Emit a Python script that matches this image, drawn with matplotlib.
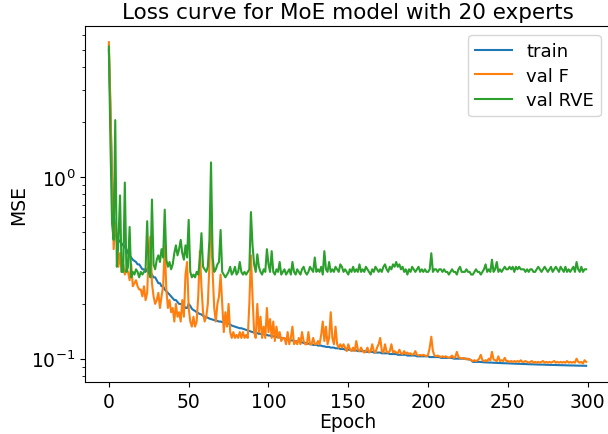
import matplotlib

matplotlib.use("Agg")
import matplotlib.pyplot as plt
import numpy as np

# values, one per epoch (0..299)
train = [
    5.0, 2.2, 1.0, 0.62, 0.52, 0.47, 0.45, 0.44, 0.43, 0.42,
    0.41, 0.40, 0.38, 0.37, 0.36, 0.35, 0.345, 0.34, 0.33, 0.33,
    0.32, 0.31, 0.31, 0.30, 0.31, 0.32, 0.30, 0.29, 0.28, 0.28,
    0.27, 0.26, 0.26, 0.25, 0.25, 0.24, 0.235, 0.23, 0.225, 0.22,
    0.215, 0.21, 0.21, 0.205, 0.20, 0.20, 0.198, 0.195, 0.19, 0.19,
    0.2, 0.195, 0.188, 0.185, 0.183, 0.18, 0.178, 0.176, 0.175, 0.172,
    0.17, 0.169, 0.168, 0.166, 0.165, 0.164, 0.163, 0.162, 0.161, 0.16,
    0.16, 0.159, 0.158, 0.158, 0.157, 0.156, 0.154, 0.152, 0.151, 0.15,
    0.149, 0.148, 0.147, 0.147, 0.146, 0.145, 0.144, 0.143, 0.142, 0.141,
    0.14, 0.139, 0.139, 0.138, 0.137, 0.137, 0.136, 0.136, 0.135, 0.135,
    0.134, 0.134, 0.133, 0.133, 0.132, 0.132, 0.131, 0.131, 0.13, 0.13,
    0.129, 0.128, 0.128, 0.127, 0.126, 0.126, 0.125, 0.125, 0.124, 0.124,
    0.123, 0.123, 0.122, 0.122, 0.121, 0.121, 0.12, 0.12, 0.119, 0.119,
    0.119, 0.118, 0.118, 0.118, 0.117, 0.117, 0.116, 0.116, 0.116, 0.115,
    0.115, 0.115, 0.114, 0.114, 0.114, 0.113, 0.113, 0.113, 0.112, 0.112,
    0.112, 0.112, 0.111, 0.111, 0.111, 0.111, 0.11, 0.11, 0.11, 0.11,
    0.11, 0.109, 0.109, 0.109, 0.109, 0.109, 0.108, 0.108, 0.108, 0.108,
    0.108, 0.107, 0.107, 0.107, 0.107, 0.107, 0.106, 0.106, 0.106, 0.106,
    0.106, 0.105, 0.105, 0.105, 0.105, 0.105, 0.105, 0.104, 0.104, 0.104,
    0.104, 0.104, 0.104, 0.103, 0.103, 0.103, 0.103, 0.103, 0.103, 0.103,
    0.103, 0.102, 0.102, 0.102, 0.102, 0.102, 0.102, 0.102, 0.101, 0.101,
    0.101, 0.101, 0.101, 0.101, 0.101, 0.101, 0.1, 0.1, 0.1, 0.1,
    0.1, 0.1, 0.1, 0.1, 0.1, 0.099, 0.099, 0.098, 0.096, 0.096,
    0.096, 0.096, 0.096, 0.0958, 0.0956, 0.0955, 0.0954, 0.0953, 0.0952, 0.0951,
    0.095, 0.095, 0.0949, 0.0948, 0.0947, 0.0946, 0.0945, 0.0944, 0.0944, 0.0943,
    0.0942, 0.0941, 0.094, 0.094, 0.0939, 0.0938, 0.0937, 0.0937, 0.0936, 0.0935,
    0.0934, 0.0934, 0.0933, 0.0932, 0.0932, 0.0931, 0.093, 0.093, 0.0929, 0.0928,
    0.0928, 0.0927, 0.0927, 0.0926, 0.0925, 0.0925, 0.0924, 0.0924, 0.0923, 0.0923,
    0.0922, 0.0922, 0.0921, 0.0921, 0.092, 0.092, 0.0919, 0.0919, 0.0918, 0.0918,
    0.0917, 0.0917, 0.0916, 0.0916, 0.0915, 0.0915, 0.0915, 0.0914, 0.0914, 0.0913,
]

val_f = [
    5.5, 2.5, 0.9, 0.40, 0.55, 0.45, 0.32, 0.38, 0.30, 0.33,
    0.29, 0.31, 0.30, 0.27, 0.33, 0.25, 0.26, 0.27, 0.25, 0.24,
    0.24, 0.22, 0.25, 0.21, 0.23, 0.38, 0.47, 0.26, 0.22, 0.20,
    0.21, 0.23, 0.19, 0.22, 0.25, 0.42, 0.24, 0.19, 0.21, 0.18,
    0.19, 0.16, 0.20, 0.17, 0.18, 0.16, 0.21, 0.17, 0.29, 0.34,
    0.19, 0.16, 0.15, 0.17, 0.15, 0.16, 0.22, 0.39, 0.25, 0.18,
    0.16, 0.17, 0.2, 0.33, 0.72, 0.3, 0.19, 0.16, 0.2, 0.22,
    0.29, 0.2, 0.14, 0.18, 0.15, 0.2, 0.14, 0.13, 0.14, 0.13,
    0.135, 0.13, 0.14, 0.13, 0.14, 0.13, 0.135, 0.13, 0.2, 0.37,
    0.22, 0.14, 0.13, 0.2, 0.14, 0.17, 0.13, 0.15, 0.13, 0.19,
    0.14, 0.165, 0.13, 0.16, 0.125, 0.15, 0.13, 0.14, 0.125, 0.13,
    0.13, 0.12, 0.14, 0.12, 0.13, 0.15, 0.12, 0.125, 0.12, 0.13,
    0.12, 0.14, 0.125, 0.12, 0.12, 0.14, 0.12, 0.12, 0.13, 0.12,
    0.12, 0.125, 0.12, 0.135, 0.16, 0.125, 0.15, 0.12, 0.13, 0.18,
    0.13, 0.12, 0.15, 0.12, 0.115, 0.12, 0.115, 0.12, 0.115, 0.11,
    0.12, 0.113, 0.11, 0.115, 0.11, 0.125, 0.112, 0.11, 0.115, 0.11,
    0.108, 0.11, 0.115, 0.108, 0.11, 0.12, 0.11, 0.108, 0.115, 0.12,
    0.13, 0.11, 0.108, 0.12, 0.109, 0.108, 0.11, 0.12, 0.108, 0.11,
    0.108, 0.107, 0.112, 0.107, 0.106, 0.11, 0.106, 0.108, 0.106, 0.107,
    0.105, 0.106, 0.11, 0.105, 0.104, 0.105, 0.104, 0.105, 0.104, 0.103,
    0.105, 0.115, 0.132, 0.11, 0.104, 0.103, 0.104, 0.103, 0.102, 0.103,
    0.102, 0.103, 0.102, 0.101, 0.102, 0.104, 0.101, 0.102, 0.109, 0.102,
    0.101, 0.1, 0.101, 0.1, 0.099, 0.1, 0.099, 0.098, 0.097, 0.098,
    0.097, 0.098, 0.1, 0.105, 0.098, 0.097, 0.098, 0.097, 0.1, 0.098,
    0.109, 0.099, 0.098, 0.097, 0.103, 0.097, 0.098, 0.097, 0.101, 0.097,
    0.097, 0.096, 0.097, 0.096, 0.097, 0.096, 0.097, 0.096, 0.098, 0.096,
    0.096, 0.097, 0.096, 0.095, 0.096, 0.097, 0.095, 0.096, 0.095, 0.096,
    0.095, 0.096, 0.097, 0.095, 0.096, 0.095, 0.096, 0.095, 0.096, 0.097,
    0.095, 0.096, 0.095, 0.096, 0.095, 0.096, 0.095, 0.097, 0.095, 0.096,
    0.095, 0.096, 0.095, 0.1, 0.096, 0.095, 0.096, 0.094, 0.098, 0.096,
]

val_rve = [
    5.2, 1.5, 0.55, 0.45, 2.05, 0.32, 0.45, 0.79, 0.3, 0.3,
    0.93, 0.3, 0.32, 0.53, 0.28, 0.3, 0.29, 0.31, 0.3, 0.28,
    0.3, 0.29, 0.3, 0.31, 0.57, 0.3, 0.28, 0.75, 0.33, 0.31,
    0.35, 0.37, 0.34, 0.4, 0.36, 0.66, 0.35, 0.32, 0.34, 0.31,
    0.33, 0.38, 0.42, 0.37, 0.4, 0.45, 0.38, 0.35, 0.42, 0.36,
    0.58, 0.3, 0.28, 0.29, 0.28, 0.3, 0.29, 0.35, 0.49, 0.32,
    0.31, 0.3, 0.32, 0.45, 1.2, 0.36, 0.3, 0.31, 0.33, 0.34,
    0.51, 0.3, 0.29, 0.28, 0.29, 0.3, 0.32, 0.29, 0.3, 0.32,
    0.29, 0.3, 0.34, 0.3, 0.29, 0.3, 0.29, 0.3, 0.31, 0.64,
    0.42, 0.33, 0.3, 0.375, 0.32, 0.3, 0.29, 0.31, 0.3, 0.4,
    0.33, 0.3, 0.39, 0.3, 0.29, 0.31, 0.3, 0.34, 0.29, 0.3,
    0.31, 0.29, 0.3, 0.31, 0.29, 0.34, 0.3, 0.29, 0.31, 0.3,
    0.29, 0.31, 0.32, 0.3, 0.29, 0.3, 0.32, 0.31, 0.3, 0.36,
    0.3, 0.31, 0.3, 0.32, 0.29, 0.39, 0.31, 0.3, 0.34, 0.3,
    0.31, 0.3, 0.32, 0.31, 0.3, 0.33, 0.32, 0.3, 0.31, 0.3,
    0.29, 0.31, 0.3, 0.32, 0.3, 0.31, 0.3, 0.33, 0.3, 0.31,
    0.3, 0.32, 0.31, 0.3, 0.29, 0.31, 0.3, 0.32, 0.31, 0.3,
    0.31, 0.3, 0.32, 0.33, 0.31, 0.3, 0.32, 0.31, 0.33, 0.32,
    0.34, 0.32, 0.33, 0.31, 0.32, 0.3, 0.31, 0.29, 0.31, 0.3,
    0.32, 0.31, 0.3, 0.31, 0.32, 0.3, 0.31, 0.3, 0.31, 0.3,
    0.3, 0.31, 0.38, 0.3, 0.31, 0.31, 0.3, 0.31, 0.31, 0.3,
    0.31, 0.3, 0.3, 0.29, 0.3, 0.31, 0.3, 0.3, 0.29, 0.31,
    0.32, 0.3, 0.3, 0.3, 0.31, 0.3, 0.3, 0.29, 0.29, 0.3,
    0.31, 0.3, 0.3, 0.29, 0.3, 0.31, 0.33, 0.3, 0.31, 0.3,
    0.35, 0.3, 0.31, 0.34, 0.3, 0.31, 0.3, 0.31, 0.32, 0.31,
    0.31, 0.32, 0.31, 0.32, 0.3, 0.32, 0.31, 0.32, 0.31, 0.31,
    0.31, 0.3, 0.31, 0.3, 0.31, 0.31, 0.3, 0.3, 0.31, 0.32,
    0.31, 0.3, 0.31, 0.32, 0.31, 0.3, 0.31, 0.32, 0.3, 0.31,
    0.32, 0.31, 0.3, 0.32, 0.31, 0.3, 0.32, 0.3, 0.31, 0.3,
    0.31, 0.32, 0.3, 0.34, 0.31, 0.3, 0.32, 0.3, 0.31, 0.31,
]

epochs = np.arange(len(train))

fig = plt.figure(figsize=(6.08, 4.35), dpi=100)
ax = fig.add_axes([0.1398, 0.1195, 0.8635, 0.8184])
ax.plot(epochs, train, label="train", color="#1f77b4", linewidth=1.5)
ax.plot(epochs, val_f, label="val F", color="#ff7f0e", linewidth=1.5)
ax.plot(epochs, val_rve, label="val RVE", color="#2ca02c", linewidth=1.5)
ax.set_yscale("log")
ax.set_xticks([0, 50, 100, 150, 200, 250, 300])
ax.tick_params(labelsize=13.5)
ax.set_xlabel("Epoch", fontsize=13.5, labelpad=1)
ax.set_ylabel("MSE", fontsize=13.5, labelpad=2)
ax.set_title("Loss curve for MoE model with 20 experts", fontsize=15.5)
ax.legend(loc="upper right", fontsize=13, labelspacing=0.35)
fig.savefig("out.png")
